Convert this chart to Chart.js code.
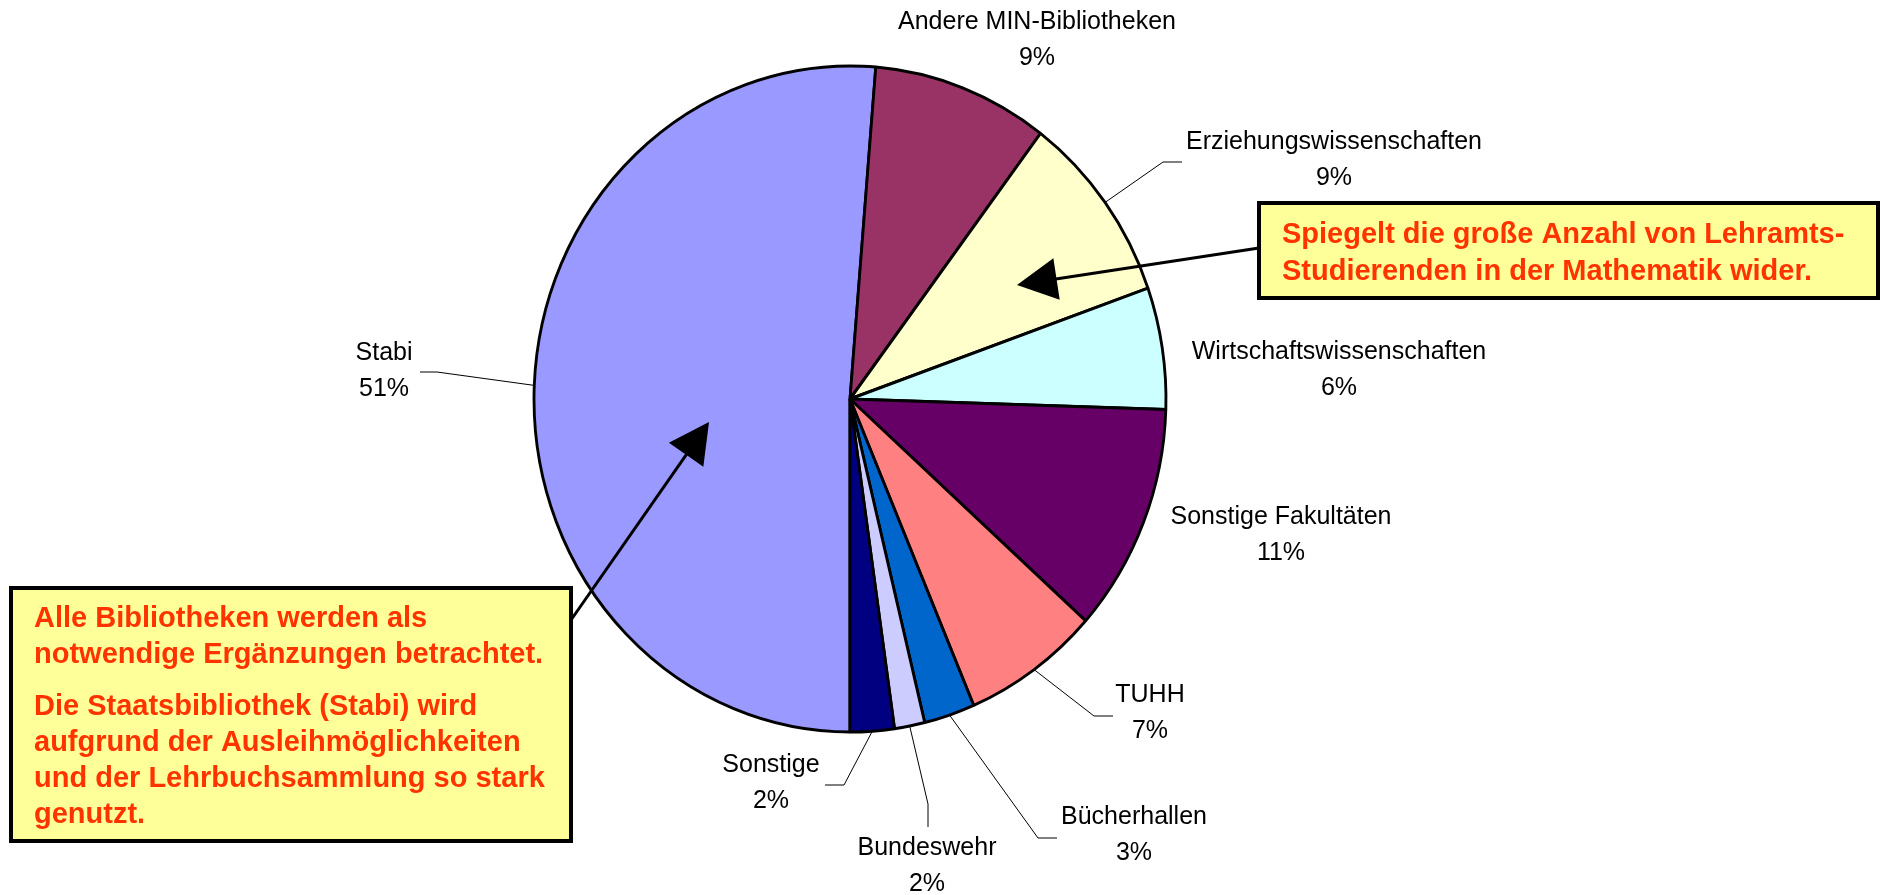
<!DOCTYPE html>
<html>
<head>
<meta charset="utf-8">
<script src="https://cdn.jsdelivr.net/npm/chart.js@4.4.1/dist/chart.umd.min.js"></script>
<style>
html,body{margin:0;padding:0;background:#ffffff;overflow:hidden}
#wrap{width:1880px;height:895px;position:relative}
canvas{display:block}
</style>
</head>
<body>
<div id="wrap"><canvas id="c" width="1880" height="895"></canvas></div>
<script>
// ---- data ----
const categories = ['Stabi', 'Andere MIN-Bibliotheken', 'Erziehungswissenschaften', 'Wirtschaftswissenschaften',
  'Sonstige Fakultäten', 'TUHH', 'Bücherhallen', 'Bundeswehr', 'Sonstige'];
const shares = [51.3, 9.0, 9.3, 5.9, 11.1, 7.0, 2.6, 1.55, 2.25];
const sliceColors = ['#9999FF', '#993366', '#FFFFCC', '#CCFFFF', '#660066', '#FF8080', '#0066CC', '#CCCCFF', '#000080'];

// ---- label layout (text centre, first line; leader elbow points) ----
const labelLayout = [
  {x: 384,  y: 353, leader: [[437, 372], [420, 372]]},
  {x: 1037, y: 22,  leader: null},
  {x: 1334, y: 142, leader: [[1163, 162], [1182, 162]]},
  {x: 1339, y: 352, leader: null},
  {x: 1281, y: 517, leader: null},
  {x: 1150, y: 695, leader: [[1094, 716], [1113, 716]]},
  {x: 1134, y: 817, leader: [[1038, 838], [1057, 838]]},
  {x: 927,  y: 848, leader: [[928, 804], [928, 827]]},
  {x: 771,  y: 765, leader: [[844, 785], [825, 785]]}
];
const labelLineGap = 36;

// ---- annotation callouts ----
const noteRight = {
  box: [1259, 203, 1878, 298],
  lines: ['Spiegelt die große Anzahl von Lehramts-', 'Studierenden in der Mathematik wider.'],
  lineY: [235, 272], textX: 1282,
  arrowFrom: [1259, 248], arrowTip: [1017, 285]
};
const noteLeft = {
  box: [11, 588, 571, 841],
  lines: ['Alle Bibliotheken werden als', 'notwendige Ergänzungen betrachtet.',
          'Die Staatsbibliothek (Stabi) wird', 'aufgrund der Ausleihmöglichkeiten',
          'und der Lehrbuchsammlung so stark', 'genutzt.'],
  lineY: [619, 655, 707, 743, 779, 815], textX: 34,
  arrowFrom: [571, 620], arrowTip: [709, 422]
};

// ellipse shape of the pie (horizontal / vertical radius)
const pieRX = 316, pieRY = 333;
const squash = pieRX / pieRY;

const ellipsePlugin = {
  id: 'ellipse',
  beforeDatasetsDraw(chart) {
    const el = chart.getDatasetMeta(0).data[0];
    const ctx = chart.ctx;
    ctx.save();
    ctx.translate(el.x, el.y);
    ctx.scale(squash, 1);
    ctx.translate(-el.x, -el.y);
  },
  afterDatasetsDraw(chart) {
    chart.ctx.restore();
  }
};

function drawArrow(ctx, from, tip) {
  const dx = tip[0] - from[0], dy = tip[1] - from[1];
  const len = Math.hypot(dx, dy);
  const ux = dx / len, uy = dy / len;
  const headLen = 40, headHalf = 21;
  const bx = tip[0] - ux * headLen, by = tip[1] - uy * headLen;
  ctx.save();
  ctx.strokeStyle = '#000';
  ctx.lineWidth = 3;
  ctx.beginPath();
  ctx.moveTo(from[0], from[1]);
  ctx.lineTo(bx + ux * 4, by + uy * 4);
  ctx.stroke();
  ctx.fillStyle = '#000';
  ctx.beginPath();
  ctx.moveTo(tip[0], tip[1]);
  ctx.lineTo(bx - uy * headHalf, by + ux * headHalf);
  ctx.lineTo(bx + uy * headHalf, by - ux * headHalf);
  ctx.closePath();
  ctx.fill();
  ctx.restore();
}

function drawNote(ctx, note) {
  const [x1, y1, x2, y2] = note.box;
  ctx.save();
  ctx.fillStyle = '#FFFF99';
  ctx.fillRect(x1, y1, x2 - x1, y2 - y1);
  ctx.strokeStyle = '#000';
  ctx.lineWidth = 4;
  ctx.strokeRect(x1, y1, x2 - x1, y2 - y1);
  ctx.fillStyle = '#FF3300';
  ctx.font = 'bold 29px "Liberation Sans", Arial, sans-serif';
  ctx.textAlign = 'left';
  ctx.textBaseline = 'middle';
  note.lines.forEach((t, i) => ctx.fillText(t, note.textX, note.lineY[i]));
  ctx.restore();
}

const labelPlugin = {
  id: 'labels',
  afterDraw(chart) {
    const ctx = chart.ctx;
    const meta = chart.getDatasetMeta(0);
    const total = shares.reduce((a, b) => a + b, 0);

    // arrows
    drawArrow(ctx, noteRight.arrowFrom, noteRight.arrowTip);
    drawArrow(ctx, noteLeft.arrowFrom, noteLeft.arrowTip);

    // leader lines + data labels
    meta.data.forEach((arc, i) => {
      const lay = labelLayout[i];
      const mid = (arc.startAngle + arc.endAngle) / 2;
      const R = arc.outerRadius;
      const ex = arc.x + Math.cos(mid) * R * squash;
      const ey = arc.y + Math.sin(mid) * R;
      if (lay.leader) {
        ctx.save();
        ctx.strokeStyle = '#000';
        ctx.lineWidth = 1;
        ctx.beginPath();
        ctx.moveTo(ex, ey);
        lay.leader.forEach(p => ctx.lineTo(p[0], p[1]));
        ctx.stroke();
        ctx.restore();
      }
      ctx.save();
      ctx.fillStyle = '#000';
      ctx.font = '25px "Liberation Sans", Arial, sans-serif';
      ctx.textAlign = 'center';
      ctx.textBaseline = 'middle';
      ctx.fillText(categories[i], lay.x, lay.y);
      ctx.fillText(Math.round(shares[i] / total * 100) + '%', lay.x, lay.y + labelLineGap);
      ctx.restore();
    });

    drawNote(ctx, noteRight);
    drawNote(ctx, noteLeft);
  }
};

new Chart(document.getElementById('c'), {
  type: 'pie',
  data: {
    labels: categories,
    datasets: [{
      data: shares,
      backgroundColor: sliceColors,
      borderColor: '#000000',
      borderWidth: 3,
      hoverOffset: 0
    }]
  },
  options: {
    responsive: false,
    animation: false,
    rotation: 180,
    radius: pieRY,
    layout: {padding: {left: 520, right: 700, top: 69, bottom: 166}},
    plugins: {legend: {display: false}, tooltip: {enabled: false}},
    events: []
  },
  plugins: [ellipsePlugin, labelPlugin]
});
</script>
</body>
</html>
